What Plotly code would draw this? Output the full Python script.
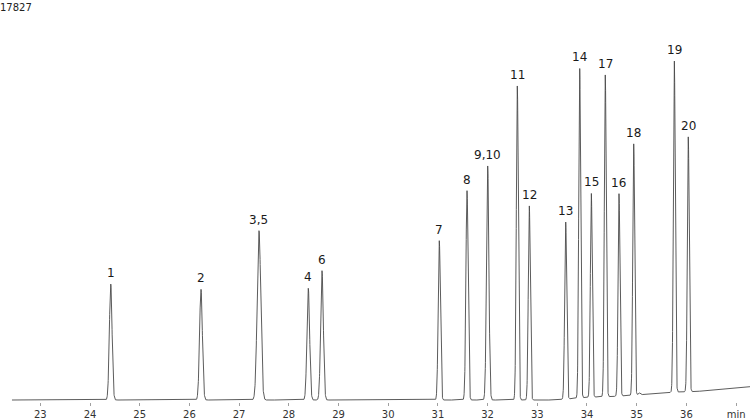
import numpy as np
import plotly.graph_objects as go

# Peak table (retention time in min, height above local baseline, width sigma in min)
peak_labels = ["1", "2", "3,5", "4", "6", "7", "8", "9,10", "11", "12",
               "13", "14", "15", "17", "16", "18", "19", "20"]
peak_times = [24.417, 26.233, 27.400, 28.392, 28.668, 31.028, 31.586, 32.002, 32.598, 32.839,
              33.571, 33.853, 34.087, 34.368, 34.644, 34.940, 35.757, 36.038]
peak_heights = [5170, 4934, 7546, 4978, 5763, 7100, 9329, 10430, 13995, 8660,
                7900, 14700, 9090, 14340, 9020, 11200, 14775, 11356]
peak_sigmas = [0.027, 0.028, 0.036, 0.027, 0.027, 0.022, 0.022, 0.024, 0.020, 0.020,
               0.020, 0.019, 0.019, 0.019, 0.019, 0.019, 0.019, 0.019]

# small unlabelled bump after peak 18
minor_times = [35.05]
minor_heights = [90]
minor_sigmas = [0.02]

# baseline drift
base_times = [22.43, 33.3, 33.6, 34.0, 34.5, 35.0, 35.5, 35.8, 36.2, 37.28]
base_levels = [0, 0, 45, 120, 156, 223, 312, 357, 379, 593]

y_max_label = "17827"
y_max = 17827
tick_values = list(range(23, 38))
tick_texts = [str(v) for v in range(23, 37)] + ["min"]

t = np.arange(22.43, 37.28, 0.002)
baseline = np.interp(t, base_times, base_levels)
signal = baseline.copy()
for tc, h, s in zip(peak_times + minor_times, peak_heights + minor_heights, peak_sigmas + minor_sigmas):
    signal += h * np.exp(-0.5 * ((t - tc) / s) ** 2)

fig = go.Figure()
fig.add_trace(go.Scatter(x=t, y=signal, mode="lines",
                         line=dict(color="#4a4a4a", width=0.9), hoverinfo="skip"))

apex_base = np.interp(peak_times, base_times, base_levels)
for lab, tc, h, b in zip(peak_labels, peak_times, peak_heights, apex_base):
    fig.add_annotation(x=tc, y=h + b, text=lab, showarrow=False, yshift=11,
                       font=dict(family="DejaVu Sans", size=12, color="#1a1a1a"))

fig.add_annotation(xref="paper", yref="paper", x=0, y=1, xanchor="left", yanchor="top",
                   text=y_max_label, showarrow=False, xshift=-2,
                   font=dict(family="DejaVu Sans", size=10, color="#222"))

fig.update_layout(
    width=750, height=420,
    margin=dict(l=0, r=0, t=0, b=18),
    paper_bgcolor="white", plot_bgcolor="white",
    showlegend=False,
    xaxis=dict(range=[22.189, 37.28], tickvals=tick_values, ticktext=tick_texts,
               ticks="outside", ticklen=3, tickcolor="#a0a0a0", tickwidth=1,
               showline=False, showgrid=False, zeroline=False,
               tickfont=dict(family="DejaVu Sans", size=10, color="#333")),
    yaxis=dict(range=[-89, y_max], visible=False, showgrid=False, zeroline=False),
)

fig.write_html("out.html")
